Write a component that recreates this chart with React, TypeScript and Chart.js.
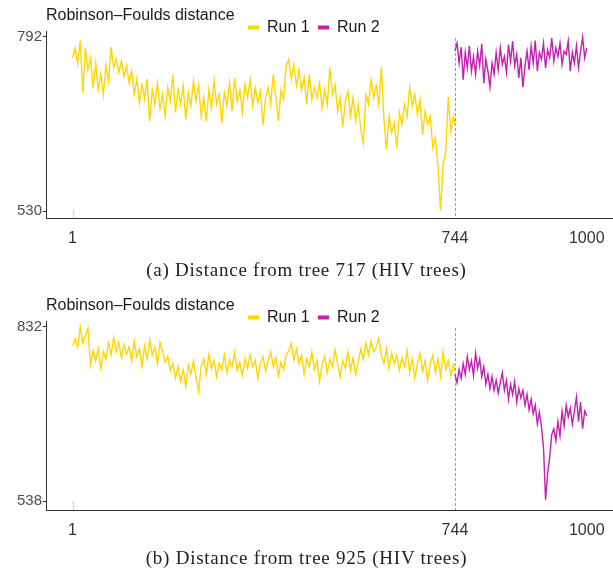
import React, { useEffect, useRef } from 'react';
import { Chart, registerables } from 'chart.js';

Chart.register(...registerables);

// ---------- data ----------
const RUN1_STEP = 5; // trees 1, 6, 11, ... 741, then the split tree
const RUN2_STEP = 4; // trees 744, 748, ... 1000
const SPLIT_TREE = 744;
const X_TICKS = [1, 744, 1000];
const SERIES_LABELS = ['Run 1', 'Run 2'];
const Y_TITLE = 'Robinson\u2013Foulds distance';

const A_Y_TICKS = [530, 792];
const B_Y_TICKS = [538, 832];
const A_CAPTION = '(a) Distance from tree 717 (HIV trees)';
const B_CAPTION = '(b) Distance from tree 925 (HIV trees)';

const A_RUN1 = [
  760, 775, 752, 786, 708, 775, 742, 760, 715, 752,
  712, 735, 705, 748, 725, 776, 745, 758, 738, 755,
  732, 748, 722, 740, 705, 728, 692, 720, 698, 728,
  665, 712, 690, 722, 683, 705, 672, 715, 695, 735,
  678, 712, 690, 718, 668, 708, 688, 725, 695, 718,
  672, 700, 665, 712, 685, 726, 690, 705, 662, 708,
  688, 722, 680, 730, 695, 712, 678, 720, 700, 728,
  688, 715, 692, 710, 659, 700, 715, 690, 735, 700,
  665, 712, 698, 748, 758, 728, 750, 718, 742, 712,
  730, 690, 735, 698, 715, 700, 722, 685, 712, 690,
  745, 705, 720, 680, 700, 656, 695, 710, 672, 700,
  665, 690, 652, 632, 705, 690, 727, 700, 718, 690,
  746, 668, 622, 672, 648, 662, 625, 678, 660, 690,
  672, 716, 688, 705, 675, 698, 645, 680, 660, 672,
  625, 640, 598, 531, 600, 618, 701, 650, 672, 660,
];

const A_RUN2 = [
  770, 782, 752, 776, 727, 768, 745, 778, 740, 762,
  735, 770, 748, 781, 722, 758, 740, 716, 752, 735,
  768, 742, 775, 750, 762, 738, 780, 755, 785, 748,
  765, 730, 760, 716, 748, 770, 742, 778, 752, 786,
  740, 768, 758, 782, 745, 772, 760, 790, 755, 775,
  762, 782, 750, 770, 765, 785, 740, 768, 752, 778,
  745, 770, 791, 760, 775,
];

const B_RUN1 = [
  800, 812, 798, 832, 805, 818, 830, 768, 792, 775,
  796, 762, 790, 778, 805, 785, 814, 790, 806, 780,
  802, 786, 798, 775, 808, 782, 795, 765, 800, 778,
  810, 785, 798, 770, 806, 790, 772, 782, 758, 770,
  745, 765, 740, 760, 731, 768, 752, 775, 745, 723,
  765, 778, 752, 786, 762, 775, 748, 770, 760, 784,
  755, 776, 765, 790, 758, 772, 750, 778, 762, 785,
  765, 776, 745, 770, 782, 758, 775, 790, 765, 780,
  750, 772, 760, 785, 792, 804, 776, 795, 770, 785,
  752, 778, 765, 790, 760, 775, 740, 768, 782, 755,
  778, 765, 793, 770, 748, 775, 762, 790, 758, 780,
  752, 772, 795, 778, 805, 785, 808, 790, 798, 813,
  785, 770, 795, 762, 788, 770, 784, 759, 780, 765,
  792, 755, 778, 745, 770, 788, 758, 775, 742, 770,
  785, 755, 778, 748, 790, 760, 775, 750, 768, 757,
];

const B_RUN2 = [
  752, 738, 760, 745, 770, 752, 782, 760, 775, 750,
  788, 762, 778, 748, 765, 735, 752, 728, 748, 725,
  742, 720, 738, 755, 725, 742, 710, 735, 718, 740,
  705, 728, 712, 725, 700, 718, 692, 710, 685, 700,
  668, 688, 664, 628, 540, 585, 612, 650, 660, 640,
  672, 648, 690, 665, 700, 680, 695, 668, 690, 714,
  672, 705, 660, 690, 682,
];

// ---------- styling ----------
const SANS = '"Liberation Sans", Arial, sans-serif';
const GOLD = '#FFD700';
const MAGENTA = '#C41FB0';
const COLORS = [GOLD, MAGENTA];

const run1Points = (vals: number[]) =>
  vals.map((y, i) => ({ x: i === vals.length - 1 ? SPLIT_TREE : 1 + RUN1_STEP * i, y }));
const run2Points = (vals: number[]) =>
  vals.map((y, i) => ({ x: SPLIT_TREE + RUN2_STEP * i, y }));

const decorPlugin = {
  id: 'decor',
  beforeDatasetsDraw(chart: any) {
    const { ctx, chartArea, scales } = chart;
    const xs = scales.x;
    ctx.save();
    const px = Math.round(xs.getPixelForValue(SPLIT_TREE)) + 0.5;
    ctx.strokeStyle = '#9a9a9a';
    ctx.lineWidth = 1;
    ctx.setLineDash([3, 2]);
    ctx.beginPath();
    ctx.moveTo(px, chartArea.top + 7);
    ctx.lineTo(px, chartArea.bottom);
    ctx.stroke();
    const p1 = Math.round(xs.getPixelForValue(X_TICKS[0])) + 0.5;
    ctx.setLineDash([]);
    ctx.strokeStyle = '#d9d9d9';
    ctx.lineWidth = 1.5;
    ctx.beginPath();
    ctx.moveTo(p1, chartArea.bottom - 9);
    ctx.lineTo(p1, chartArea.bottom);
    ctx.stroke();
    ctx.restore();
  },
  afterDraw(chart: any) {
    const { ctx, chartArea } = chart;
    ctx.save();
    ctx.font = `16px ${SANS}`;
    ctx.fillStyle = '#1a1a1a';
    ctx.textBaseline = 'middle';
    ctx.textAlign = 'left';
    ctx.fillText(Y_TITLE, chartArea.left, 16);
    const legendX = [248, 318];
    SERIES_LABELS.forEach((lab, i) => {
      ctx.fillStyle = COLORS[i];
      ctx.fillRect(legendX[i], 25.5, 11, 4);
      ctx.fillStyle = '#1a1a1a';
      ctx.fillText(lab, legendX[i] + 19, 28);
    });
    ctx.restore();
  },
};

type PanelProps = {
  run1: number[];
  run2: number[];
  yMin: number;
  yMax: number;
  yTicks: number[];
  plotBottom: number;
  top: number;
};

function Panel({ run1, run2, yMin, yMax, yTicks, plotBottom, top }: PanelProps) {
  const ref = useRef<HTMLCanvasElement | null>(null);
  useEffect(() => {
    if (!ref.current) return;
    const chart = new Chart(ref.current, {
      type: 'line',
      data: {
        datasets: [
          {
            label: SERIES_LABELS[0],
            data: run1Points(run1),
            borderColor: GOLD,
            borderWidth: 1.4,
            pointRadius: 0,
            tension: 0,
          },
          {
            label: SERIES_LABELS[1],
            data: run2Points(run2),
            borderColor: MAGENTA,
            borderWidth: 1.4,
            pointRadius: 0,
            tension: 0,
          },
        ],
      },
      options: {
        animation: false,
        responsive: false,
        events: [],
        layout: { padding: { top: 31, left: 0, right: 0, bottom: 0 } },
        plugins: {
          legend: { display: false },
          title: { display: false },
          tooltip: { enabled: false },
        },
        scales: {
          x: {
            type: 'linear',
            min: -50.5,
            max: 1051,
            afterBuildTicks: (s: any) => {
              s.ticks = X_TICKS.map((v) => ({ value: v }));
            },
            afterFit: (s: any) => {
              s.height = 290 - plotBottom;
            },
            grid: { display: false },
            border: { display: true, color: '#333333', width: 1 },
            ticks: {
              autoSkip: false,
              maxRotation: 0,
              padding: 3,
              color: '#333333',
              font: { family: SANS, size: 16 },
              callback: (v: any) => String(v),
            },
          },
          y: {
            type: 'linear',
            min: yMin,
            max: yMax,
            afterBuildTicks: (s: any) => {
              s.ticks = yTicks.map((v) => ({ value: v }));
            },
            afterFit: (s: any) => {
              s.width = 46;
            },
            grid: {
              display: true,
              drawOnChartArea: false,
              drawTicks: true,
              tickLength: 3,
              color: '#333333',
            },
            border: { display: true, color: '#333333', width: 1 },
            ticks: {
              autoSkip: false,
              padding: 1,
              color: '#4d4d4d',
              font: { family: SANS, size: 15 },
              callback: (v: any) => String(v),
            },
          },
        },
      } as any,
      plugins: [decorPlugin],
    });
    return () => chart.destroy();
  }, []);
  return (
    <canvas
      ref={ref}
      width={613}
      height={290}
      style={{ position: 'absolute', left: 0, top, width: 613, height: 290 }}
    />
  );
}

const captionStyle = (top: number): React.CSSProperties => ({
  position: 'absolute',
  left: 0,
  top,
  width: 613,
  height: 24,
  lineHeight: '24px',
  textAlign: 'center',
  fontFamily: '"Liberation Serif", "Times New Roman", serif',
  fontSize: 19,
  letterSpacing: '0.75px',
  color: '#222222',
});

export default function App() {
  return (
    <div style={{ position: 'fixed', left: 0, top: 0, width: 613, height: 574, background: '#ffffff' }}>
      <Panel run1={A_RUN1} run2={A_RUN2} yMin={519.5} yMax={800.3} yTicks={A_Y_TICKS} plotBottom={218} top={0} />
      <div style={captionStyle(258)}>{A_CAPTION}</div>
      <Panel run1={B_RUN1} run2={B_RUN2} yMin={522.8} yMax={842.1} yTicks={B_Y_TICKS} plotBottom={220} top={290} />
      <div style={captionStyle(546)}>{B_CAPTION}</div>
    </div>
  );
}
